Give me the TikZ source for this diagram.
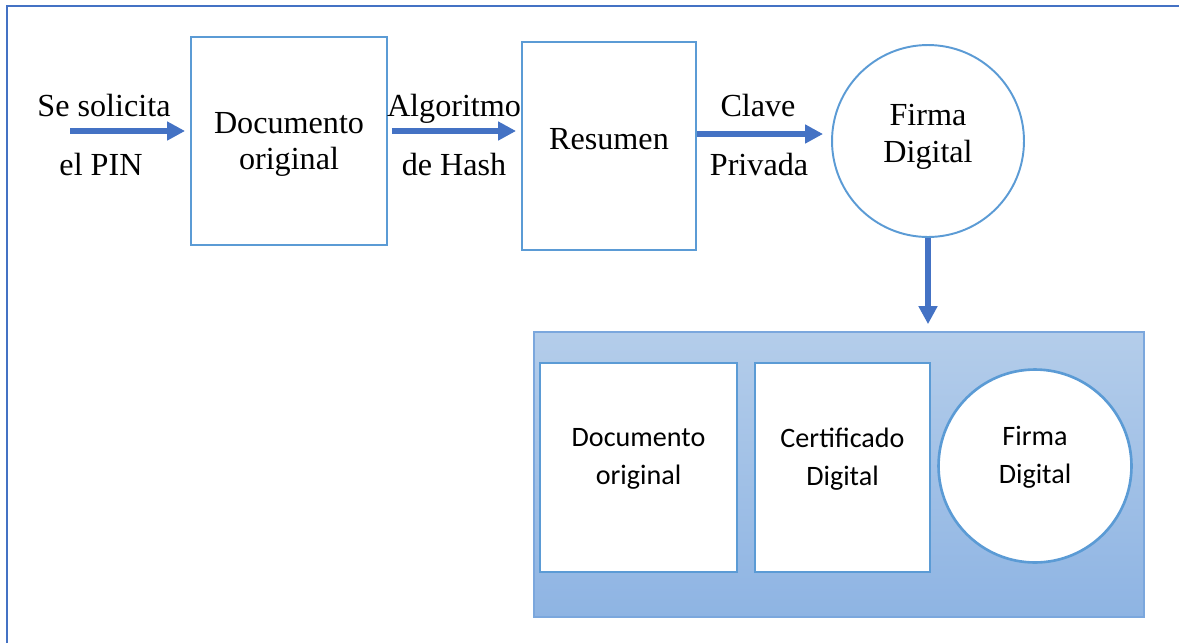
\documentclass[tikz,border=0pt]{standalone}
\usepackage{fontspec}
\setmainfont{Liberation Serif}
\newfontfamily\calib{Carlito}
\usetikzlibrary{arrows.meta}
\definecolor{arrowblue}{HTML}{4472C4}
\definecolor{edgeblue}{HTML}{5B9BD5}
\definecolor{packtop}{HTML}{B4CDEA}
\definecolor{packbot}{HTML}{8EB4E3}
\definecolor{packedge}{HTML}{7BA7DD}
\tikzset{
  serif/.style={font=\fontsize{18.3pt}{21pt}\selectfont, text=black},
  sans/.style={font=\calib\fontsize{16pt}{21.5pt}\selectfont, text=black},
  topbox/.style={draw=edgeblue, line width=1.1pt, fill=white, serif, align=center, inner sep=0pt},
  topcirc/.style={circle, draw=edgeblue, line width=1.1pt, fill=white, serif, align=center, inner sep=0pt},
  innerbox/.style={draw=edgeblue, line width=1.5pt, fill=white, sans, align=center, inner sep=0pt},
  innercirc/.style={circle, draw=edgeblue, line width=1.5pt, fill=white, sans, align=center, inner sep=0pt},
  flow/.style={draw=arrowblue, line width=3.4pt, -{Triangle[length=0.36cm,width=0.36cm]}},
  lbl/.style={serif, anchor=base, inner sep=0pt},
}
\begin{document}
\begin{tikzpicture}[x=0.02cm, y=-0.02cm]
\useasboundingbox (0,0) rectangle (1179,643);
\fill[white] (0,0) rectangle (1179,643);

% page frame
\draw[arrowblue, line width=1.3pt] (7,643) -- (7,6) -- (1179,6);

% upper signing chain
\node[topbox, minimum width=3.92cm, minimum height=4.16cm, text depth=-0.06cm] (doc) at (289,141) {Documento\\original};
\node[topbox, minimum width=3.48cm, minimum height=4.16cm] (res) at (609,146) {\raisebox{0.28cm}{Resumen}};
\node[topcirc, minimum size=3.84cm, text depth=0.32cm] (sig) at (928,141) {Firma\\Digital};

% arrows between the steps
\coordinate (pin) at (70,131);
\draw[flow, shorten >=0.1cm] (pin) -- (pin -| doc.west);
\draw[flow, shorten <=0.08cm, shorten >=0.1cm] (doc.east |- 0,131) -- (res.west |- 0,131);
\draw[flow, shorten >=0.16cm] (res.east |- 0,134) -- (sig.west |- 0,134);

% arrow labels
\node[lbl] (l1) at (104,116) {Se solicita};
\node[lbl] (l2) at (101,175) {el PIN};
\node[lbl] (l3) at (454,116) {Algoritmo};
\node[lbl] (l4) at (454,175) {de Hash};
\node[lbl] (l5) at (758,116) {Clave};
\node[lbl] (l6) at (759,175) {Privada};

% signed package
\node[draw=packedge, line width=1pt, top color=packtop, bottom color=packbot,
      minimum width=12.2cm, minimum height=5.7cm, inner sep=0pt] (pack) at (839,474.5) {};
\node[innerbox, minimum width=3.94cm, minimum height=4.18cm, text depth=0.44cm] (pdoc) at (638.5,467.5) {Documento\\original};
\node[innerbox, minimum width=3.5cm, minimum height=4.18cm, text depth=0.44cm] (pcert) at (842.5,467.5) {Certificado\\Digital};
\node[innercirc, minimum size=3.86cm, text depth=0.44cm] (psig) at (1035,466) {Firma\\Digital};

\draw[flow, shorten >=0.14cm] (sig.south) -- (sig.south |- pack.north);
\end{tikzpicture}
\end{document}
